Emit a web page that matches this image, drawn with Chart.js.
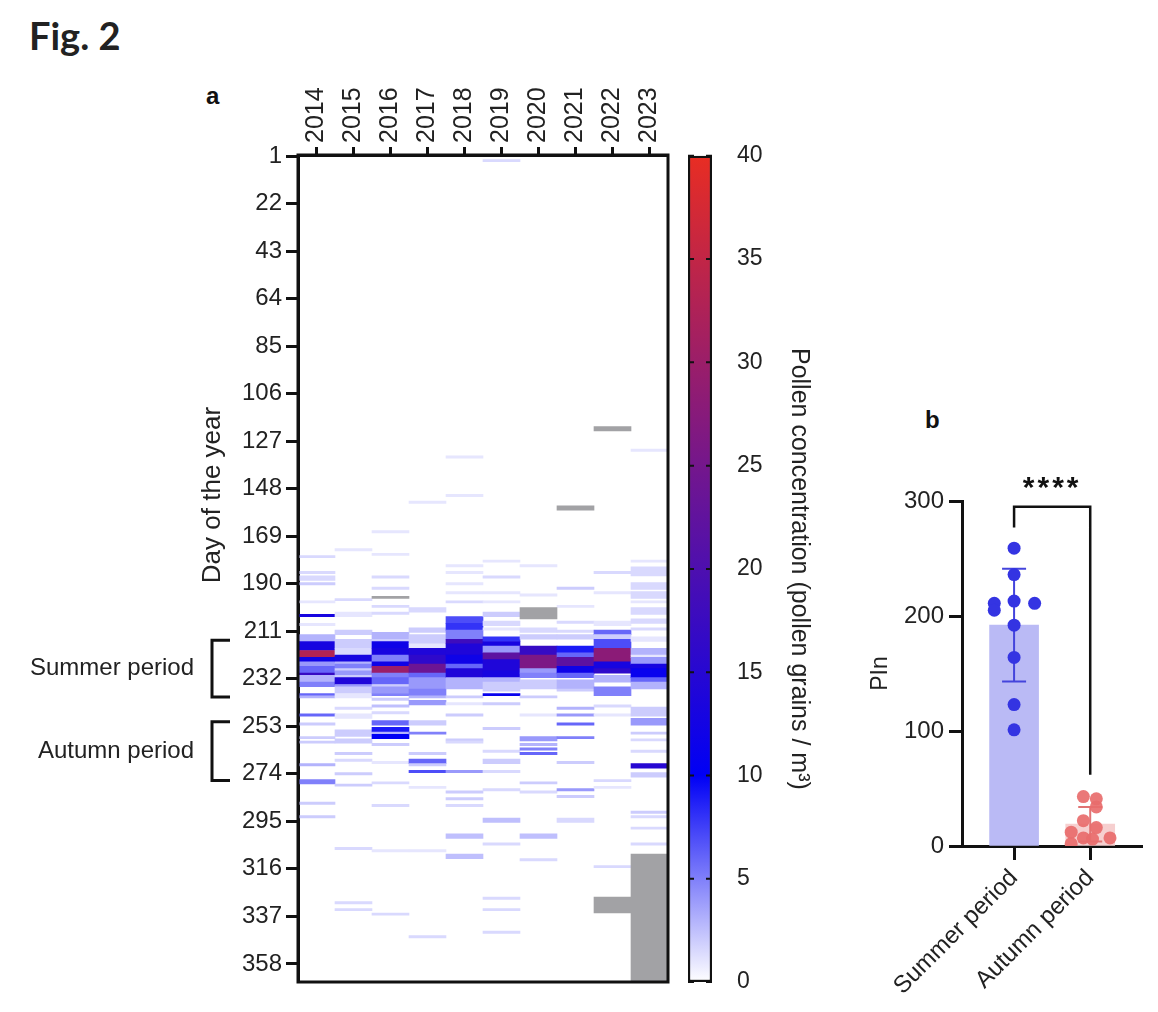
<!DOCTYPE html>
<html><head><meta charset="utf-8">
<script src="https://cdn.jsdelivr.net/npm/chart.js@4.4.1/dist/chart.umd.min.js"></script>
<style>
html,body{margin:0;padding:0;background:#fff;}
#wrap{position:relative;width:1158px;height:1012px;overflow:hidden;background:#fff;}
canvas{position:absolute;}
.fig{position:absolute;left:29px;top:12px;font:700 38px Lato,'Open Sans',sans-serif;color:#222;}
.pl{position:absolute;font:700 24px 'Liberation Sans',Arial,sans-serif;color:#111;}
</style></head><body>
<div id="wrap">
<div class="fig">Fig. 2</div>
<div class="pl" style="left:206px;top:82px">a</div>
<div class="pl" style="left:925px;top:406px">b</div>
<canvas id="heat" width="680" height="1012" style="left:0;top:0"></canvas>
<canvas id="cbar" width="170" height="860" style="left:680px;top:140px"></canvas>
<canvas id="pin" width="298" height="632" style="left:860px;top:380px"></canvas>
</div>
<script>
// ---------------- data ----------------
const years = ['2014','2015','2016','2017','2018','2019','2020','2021','2022','2023'];
const dayTicks = [1,22,43,64,85,106,127,148,169,190,211,232,253,274,295,316,337,358];
// runs: [firstDay, lastDay, pollen grains / m3]
const pollen2014 = [[178,178,1.5],[185,185,1.5],[187,188,1.5],[190,190,2],[198,198,1],[204,204,13],[208,208,1],
 [213,215,3],[216,219,13],[220,222,33],[223,224,12],[225,226,4],[227,229,6],[230,230,17],[231,233,3],[234,235,5],
 [239,239,6],[240,240,3],[248,248,6],[252,252,2],[258,258,2],[260,260,2],[270,270,3],[277,278,5],[287,287,2],[293,293,2]];
const pollen2015 = [[175,175,1],[197,197,1.5],[203,204,1],[211,212,2],[215,218,2],[219,221,1.5],[222,224,13],[225,225,3],
 [226,227,5],[228,228,2],[229,230,4],[231,231,2],[232,234,14],[235,235,4],[236,238,2],[239,240,1],[245,245,1.5],[248,249,1],
 [255,257,2],[259,260,2],[265,265,2],[268,268,1.5],[274,274,2],[279,279,2],[307,307,1.5],[331,331,1.5],[334,334,1.5]];
const pollen2016 = [[167,167,1],[177,177,1],[187,187,1.5],[192,192,1.5],[200,200,1.5],[203,203,1.5],[212,214,3],[215,215,2],
 [216,218,12],[219,221,13],[222,224,5],[225,226,12],[227,229,30],[230,231,5],[232,234,6],[235,235,2],[236,238,4],[239,239,5],
 [241,241,2],[244,244,2.5],[247,247,1.5],[251,252,6],[254,255,9],[256,256,3],[257,258,10],[261,261,2],[269,269,1],[278,278,1.5],
 [288,288,1.5],[308,308,1],[336,336,1.5]];
const pollen2017 = [[154,154,1],[201,202,1.5],[210,211,2],[213,216,2],[217,218,1],[219,221,14],[222,225,16],[226,229,24],
 [230,231,6],[232,236,4],[237,239,5],[240,240,3],[242,243,4],[251,252,2],[256,256,5],[265,265,2],[268,269,6],[270,270,2],
 [273,273,7],[280,280,1],[308,308,1],[346,346,1.5]];
const pollen2018 = [[134,134,1],[151,151,1],[182,182,1],[185,185,1],[190,190,1],[194,194,1],[198,198,1.5],[205,207,7],
 [208,210,8],[211,214,5],[215,216,18],[217,221,14],[222,225,12],[226,227,6],[228,231,14],[232,236,3],[240,240,2],[243,243,1],
 [248,248,2],[259,259,2],[260,260,1.5],[273,273,4],[282,282,2],[285,285,2],[288,288,1.5],[301,302,2.5],[310,311,2.5]];
const pollen2019 = [[3,3,1.5],[180,180,1],[187,187,1.5],[194,194,1],[198,198,1],[203,204,2],[207,208,1.5],[210,210,1],
 [214,215,8],[216,217,13],[218,220,4],[221,223,22],[224,228,14],[229,231,13],[232,233,3],[234,237,2],[239,239,11],[243,243,2],
 [254,254,2],[264,264,1.5],[268,269,2],[273,273,1.5],[281,281,1.5],[294,295,2.5],[305,305,1.5],[329,329,1.5],[334,334,1.5],[344,344,1.5]];
const pollen2020 = [[182,182,1],[195,195,1],[210,211,1.5],[213,214,2],[218,221,17],[222,227,26],[228,229,4],[230,231,5],
 [233,236,2],[240,240,2],[248,248,1],[258,259,4],[261,261,3],[263,263,5],[265,265,6],[278,278,2],[282,282,1.5],[301,302,2.5],[312,312,1.5]];
const pollen2021 = [[192,192,2],[200,200,1],[207,207,1.5],[211,211,1.5],[213,214,2],[218,220,9],[221,222,6],[223,226,22],
 [227,229,12],[230,231,6],[233,236,3],[237,237,2],[245,245,3],[248,248,4],[252,252,6],[258,258,5],[269,269,2],[281,281,4],
 [284,284,2],[294,295,1.5]];
const pollen2022 = [[185,185,1.5],[194,194,1],[207,208,1],[211,212,6],[213,214,2],[215,218,7],[219,224,28],[225,227,13],
 [228,229,16],[231,233,3],[236,239,5],[244,244,1.5],[248,248,1],[277,277,1.5],[280,280,1],[315,315,1.5]];
const pollen2023 = [[131,131,1],[180,180,1],[183,186,1.5],[190,192,1.5],[194,196,1.5],[198,198,1],[201,203,1.5],[206,207,1.5],
 [210,210,1.5],[214,215,1],[219,221,3],[222,222,1],[223,225,4],[226,227,13],[228,231,11],[232,233,6],[234,236,3],[245,248,2],
 [250,252,4],[256,256,2],[259,259,1.5],[264,264,1.5],[270,271,15],[274,275,2],[291,291,2],[293,293,1.5],[298,298,1.5],[305,305,1.5]];
// missing data: [year, firstDay, lastDay]
const missingDays = [['2016',196,196],['2020',201,205],['2021',156,157],['2022',121,122],['2022',329,335],['2023',310,365]];
const summerPeriod = [215, 240];
const autumnPeriod = [251, 277];
const colorTicksMax = 40;

const periods = ['Summer period','Autumn period'];
const pinMean = [192, 19];
const pinSD = [49, 15];
const summerPIn = [259,236,213,211,211,205,192,164,123,101];
const summerJitter = [0,0,0,-0.26,0.27,-0.26,0,0,0,0];
const autumnPIn = [43,41,34,22,16,12,7,7,6,2];
const autumnJitter = [-0.09,0.08,0.08,-0.09,0.08,-0.25,-0.09,0.26,0.03,-0.25];
const sigBracket = [277, 295, 62]; // left leg end, bracket top, right leg end
const sigLabel = '****';

// ---------------- helpers ----------------
const FAM = "'Liberation Sans', Arial, sans-serif";
Chart.defaults.font.family = FAM;
Chart.defaults.color = '#222';
const stops = [[0,[255,255,255]],[10,[0,0,245]],[40,[232,45,35]]];
function colorFor(v){
  if (v === null || v === undefined) return '#a2a2a5';
  v = Math.max(0, Math.min(40, v));
  for (let i=1;i<stops.length;i++){
    if (v <= stops[i][0]){
      const [a,ca] = stops[i-1], [b,cb] = stops[i];
      const t = (v-a)/(b-a);
      const c = ca.map((x,k)=>Math.round(x+(cb[k]-x)*t));
      return `rgb(${c[0]},${c[1]},${c[2]})`;
    }
  }
  return 'rgb(232,45,35)';
}
const yearRuns = [pollen2014,pollen2015,pollen2016,pollen2017,pollen2018,pollen2019,pollen2020,pollen2021,pollen2022,pollen2023];
const cells = [];
yearRuns.forEach((runs,i)=>runs.forEach(([s,e,v])=>cells.push({x:years[i], y:[s-0.5,e+0.5], v})));
missingDays.forEach(([yr,s,e])=>cells.push({x:yr, y:[s-0.5,e+0.5], v:null}));

// ---------------- heatmap ----------------
const heatDecor = {
  id:'heatDecor',
  afterDraw(chart){
    const {ctx, chartArea:a, scales:{y}} = chart;
    ctx.save();
    ctx.strokeStyle='#111'; ctx.lineWidth=3;
    ctx.strokeRect(a.left, a.top, a.right-a.left, a.bottom-a.top);
    ctx.font = '24px '+FAM; ctx.fillStyle='#222';
    [[summerPeriod,periods[0]],[autumnPeriod,periods[1]]].forEach(([p,label])=>{
      const y0 = y.getPixelForValue(p[0]), y1 = y.getPixelForValue(p[1]);
      ctx.beginPath(); ctx.moveTo(230,y0); ctx.lineTo(212,y0); ctx.lineTo(212,y1); ctx.lineTo(230,y1); ctx.stroke();
      ctx.textAlign='right'; ctx.textBaseline='middle';
      ctx.fillText(label, 194, (y0+y1)/2);
    });
    ctx.font = '26px '+FAM;
    ctx.translate(213, 495); ctx.rotate(-Math.PI/2);
    ctx.textAlign='center'; ctx.textBaseline='middle';
    ctx.fillText('Day of the year', 0, 0);
    ctx.restore();
  }
};
new Chart(document.getElementById('heat'), {
  type:'bar',
  data:{labels:years, datasets:[{data:cells, borderWidth:0, barPercentage:1, categoryPercentage:1,
    backgroundColor: c => (c.raw ? colorFor(c.raw.v) : 'transparent')}]},
  options:{
    responsive:false, animation:false, events:[],
    layout:{padding:{left:199, top:80, right:12, bottom:30}},
    plugins:{legend:{display:false}, tooltip:{enabled:false}},
    scales:{
      x:{type:'category', position:'top', offset:true,
        grid:{display:true, offset:false, drawOnChartArea:false, drawTicks:true, tickLength:8, tickWidth:3, tickColor:'#111'},
        border:{display:true, width:3, color:'#111'},
        ticks:{minRotation:90, maxRotation:90, padding:4, labelOffset:30, autoSkip:false, font:{size:25, lineHeight:1.2}, color:'#222'},
        afterFit(s){ s.height = 75; }},
      y:{type:'linear', reverse:true, min:0.5, max:366,
        afterBuildTicks(s){ s.ticks = dayTicks.map(v=>({value:v})); },
        ticks:{padding:4, autoSkip:false, font:{size:24}, color:'#222'},
        grid:{drawOnChartArea:false, tickLength:12, tickWidth:3, tickColor:'#111'},
        border:{display:true, width:3, color:'#111'},
        afterFit(s){ s.width = 99; }}
    }
  },
  plugins:[heatDecor]
});

// ---------------- colour bar ----------------
const cbarTicks = {
  id:'cbarTicks',
  afterDatasetsDraw(chart){
    const {ctx, chartArea:a, scales:{y}} = chart;
    ctx.save(); ctx.strokeStyle='#111'; ctx.lineWidth=2;
    y.ticks.forEach(t=>{
      const py = y.getPixelForValue(t.value);
      ctx.beginPath(); ctx.moveTo(a.left,py); ctx.lineTo(a.left+6,py);
      ctx.moveTo(a.right-6,py); ctx.lineTo(a.right,py); ctx.stroke();
    });
    ctx.restore();
  }
};
new Chart(document.getElementById('cbar'), {
  type:'bar',
  data:{labels:[''], datasets:[{data:[[0,colorTicksMax]], borderColor:'#111', borderWidth:2.5, borderSkipped:false,
    barPercentage:1, categoryPercentage:1,
    backgroundColor: c => {
      const ca = c.chart.chartArea; if (!ca) return '#fff';
      const g = c.chart.ctx.createLinearGradient(0, ca.bottom, 0, ca.top);
      stops.forEach(([v,col])=>g.addColorStop(v/colorTicksMax, `rgb(${col[0]},${col[1]},${col[2]})`));
      return g;
    }}]},
  options:{
    responsive:false, animation:false, events:[],
    layout:{padding:{left:8, top:15, right:36, bottom:18}},
    plugins:{legend:{display:false}, tooltip:{enabled:false}},
    scales:{
      x:{display:false},
      y:{position:'right', min:0, max:colorTicksMax,
        ticks:{stepSize:5, padding:2, font:{size:23}, color:'#222'},
        grid:{display:false, drawTicks:true, tickLength:23},
        border:{display:false},
        title:{display:true, text:'Pollen concentration (pollen grains / m³)', padding:0, font:{size:25}, color:'#222'},
        afterFit(s){ s.width = 102; }}
    }
  },
  plugins:[cbarTicks]
});

// ---------------- PIn panel ----------------
const pinDecor = {
  id:'pinDecor',
  afterDatasetDraw(chart, args){
    if (args.index !== 0) return;
    const {ctx, scales:{x,y}} = chart;
    const cols = ['#4444dc','#e07474'];
    ctx.save(); ctx.lineWidth = 2;
    pinMean.forEach((m,i)=>{
      const px = x.getPixelForValue(i), t = y.getPixelForValue(m+pinSD[i]), b = y.getPixelForValue(Math.max(0,m-pinSD[i]));
      ctx.strokeStyle = cols[i];
      ctx.beginPath(); ctx.moveTo(px,t); ctx.lineTo(px,b);
      ctx.moveTo(px-12,t); ctx.lineTo(px+12,t);
      ctx.moveTo(px-12,b); ctx.lineTo(px+12,b); ctx.stroke();
    });
    ctx.restore();
  },
  afterDraw(chart){
    const {ctx, scales:{x,y}} = chart;
    const x0 = x.getPixelForValue(0), x1 = x.getPixelForValue(1);
    const yl = y.getPixelForValue(sigBracket[0]), yt = y.getPixelForValue(sigBracket[1]), yr = y.getPixelForValue(sigBracket[2]);
    ctx.save(); ctx.strokeStyle='#111'; ctx.lineWidth=2.5;
    ctx.beginPath(); ctx.moveTo(x0,yl); ctx.lineTo(x0,yt); ctx.lineTo(x1,yt); ctx.lineTo(x1,yr); ctx.stroke();
    ctx.fillStyle='#111'; ctx.font='bold 30px '+FAM; ctx.textAlign='center'; ctx.textBaseline='middle';
    try { ctx.letterSpacing = '3px'; } catch(e){}
    ctx.fillText(sigLabel, (x0+x1)/2, yt-18);
    ctx.restore();
  }
};
new Chart(document.getElementById('pin'), {
  type:'bar',
  data:{datasets:[
    {type:'bar', data:pinMean.map((m,i)=>({x:i,y:m})), backgroundColor:['#babaf5','#f6cfcf'], barThickness:49, order:2},
    {type:'scatter', data:summerPIn.map((v,i)=>({x:summerJitter[i], y:v})), backgroundColor:'#3434e2', borderWidth:0, pointRadius:6.5, order:1},
    {type:'scatter', data:autumnPIn.map((v,i)=>({x:1+autumnJitter[i], y:v})), backgroundColor:'rgba(232,108,108,0.92)', borderWidth:0, pointRadius:6.5, order:1}
  ]},
  options:{
    responsive:false, animation:false, events:[],
    layout:{padding:{left:7, top:121, right:16, bottom:10}},
    plugins:{legend:{display:false}, tooltip:{enabled:false}},
    scales:{
      x:{type:'linear', min:-0.684, max:1.68, offset:false,
        afterBuildTicks(s){ s.ticks = periods.map((p,i)=>({value:i})); },
        ticks:{callback:v=>periods[v], minRotation:45, maxRotation:45, padding:4, autoSkip:false, font:{size:24}, color:'#222'},
        grid:{offset:false, drawOnChartArea:false, tickLength:14, tickWidth:3, tickColor:'#111'},
        border:{display:true, width:3, color:'#111'},
        afterFit(s){ s.height = 156; }},
      y:{min:0, max:300,
        ticks:{stepSize:100, padding:5, font:{size:24}, color:'#222'},
        grid:{drawOnChartArea:false, tickLength:13, tickWidth:3, tickColor:'#111'},
        border:{display:true, width:3, color:'#111'},
        title:{display:true, text:'PIn', padding:0, font:{size:23}, color:'#222'},
        afterFit(s){ s.width = 95; }}
    }
  },
  plugins:[pinDecor]
});
</script>
</body></html>
